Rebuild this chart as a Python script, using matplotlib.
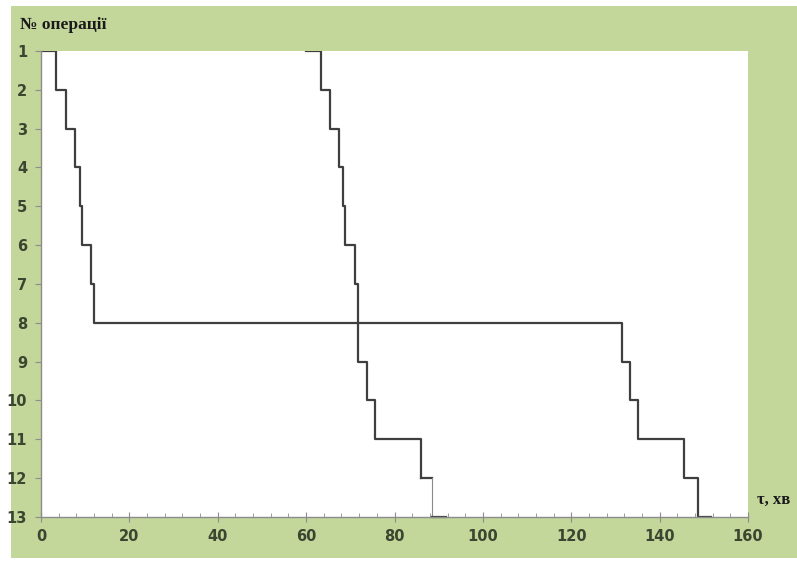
import matplotlib.pyplot as plt
from matplotlib.ticker import MultipleLocator

# номери операцій
rows = list(range(1, 14)) + [13]
# перша партія: початок і моменти закінчення кожної операції
t1 = [0, 3.4, 5.7, 7.7, 8.8, 9.2, 11.3, 12.0, 131.5, 133.3, 135.2, 145.6, 148.6, 151.7]
# друга партія
t2 = [60, 63.3, 65.5, 67.5, 68.4, 68.9, 71.0, 71.8, 71.8, 73.7, 75.7, 85.9, 88.5, 91.6]
xticks = [0, 20, 40, 60, 80, 100, 120, 140, 160]
yticks = list(range(1, 14))

green = '#c4d79b'
lc = '#3f3f3f'

fig = plt.figure(figsize=(7.97, 5.61), dpi=100)
fig.patch.set_facecolor('white')

# зелене тло діаграми
bg = fig.add_axes([11/797, 3/561, 1-11/797, 1-(3+6)/561])
bg.set_facecolor(green)
bg.set_xticks([])
bg.set_yticks([])
for s in bg.spines.values():
    s.set_visible(False)

ax = fig.add_axes([41/797, 1-517/561, (748-41)/797, (517-51)/561])
ax.set_facecolor('white')

ax.step(t1, rows, where='post', color=lc, lw=1.6)
ax.step(t2[:-2], rows[:-2], where='post', color=lc, lw=1.6)
ax.plot([t2[11], t2[12]], [12, 12], color=lc, lw=1.6)
ax.plot([t2[12], t2[12]], [12, 13], color='#8a8a8a', lw=0.8)
ax.plot([t2[12], t2[13]], [13, 13], color=lc, lw=1.6, clip_on=False)

ax.set_xlim(0, 160)
ax.set_ylim(13, 1)
ax.set_xticks(xticks)
ax.set_yticks(yticks)
ax.xaxis.set_minor_locator(MultipleLocator(4))
for s in ['top', 'right']:
    ax.spines[s].set_visible(False)
for s in ['left', 'bottom']:
    ax.spines[s].set_color('#8c8c8c')
    ax.spines[s].set_linewidth(1.0)
ax.tick_params(axis='x', which='major', direction='inout', length=7, color='#8c8c8c', pad=5)
ax.tick_params(axis='x', which='minor', direction='in', length=3, color='#8c8c8c')
ax.tick_params(axis='y', which='major', direction='out', length=4, color='#8c8c8c', pad=6)
for lab in ax.get_xticklabels() + ax.get_yticklabels():
    lab.set_fontfamily('DejaVu Sans')
    lab.set_fontsize(10.5)
    lab.set_color('#3a4630')
    lab.set_fontweight('bold')

fig.text(20/797, 1-25/561, '№ операції', family='Liberation Serif', fontweight='bold',
         fontsize=12.5, color='#1a1a1a', va='center', ha='left')
fig.text(757/797, 1-500/561, 'τ, хв', family='Liberation Serif', fontweight='bold',
         fontsize=12, color='#1a1a1a', va='center', ha='left')

fig.savefig('out.png', dpi=100)
